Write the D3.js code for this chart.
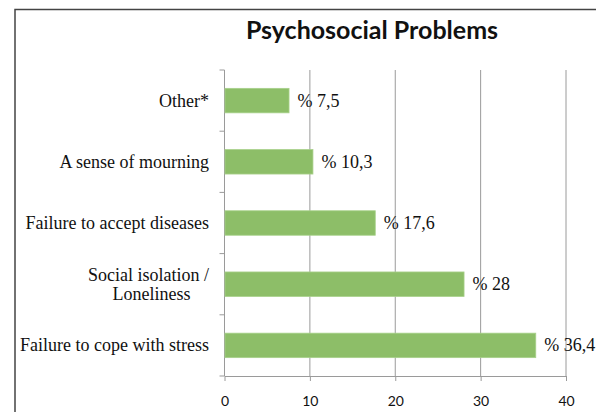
<!DOCTYPE html>
<html>
<head>
<meta charset="utf-8">
<script src="https://cdn.jsdelivr.net/npm/d3@7"></script>
<style>
  body { margin: 0; background: #fff; }
</style>
</head>
<body>
<svg id="chart" width="596" height="412"></svg>
<script>
// data, top to bottom
let categories = ["Other*", "A sense of mourning", "Failure to accept diseases", "Social isolation / Loneliness", "Failure to cope with stress"]
let values = [7.5, 10.3, 17.6, 28, 36.4]
let xTicks = [0, 10, 20, 30, 40]

let svg = d3.select('#chart')

let plotLeft = 224.5, plotRight = 566, plotTop = 70, plotBottom = 376

let x = d3.scaleLinear().domain([0, 40]).range([plotLeft, plotRight])
let y = d3.scaleBand().domain(categories).range([plotTop, plotBottom]).paddingInner(0.6).paddingOuter(0.3)

// outer frame
svg.append('rect')
    .attr('x', 15).attr('y', 9.5)
    .attr('width', 620).attr('height', 430)
    .attr('fill', 'none')
    .attr('stroke', '#444')
    .attr('stroke-width', 1.5)

// title
svg.append('text')
    .attr('x', 372).attr('y', 39)
    .attr('text-anchor', 'middle')
    .style('font-family', 'Lato, sans-serif')
    .style('font-weight', 'bold')
    .style('font-size', '25px')
    .attr('fill', '#111')
    .text('Psychosocial Problems')

// vertical gridlines
svg.append('g').selectAll('line')
    .data(xTicks.slice(1))
    .enter()
    .append('line')
    .attr('x1', d => x(d)).attr('x2', d => x(d))
    .attr('y1', plotTop).attr('y2', plotBottom)
    .attr('stroke', '#9a9a9a')
    .attr('stroke-width', 1)

// x axis
let xAxis = svg.append('g')
    .attr('transform', `translate(0,${plotBottom})`)
    .call(d3.axisBottom(x).tickValues(xTicks).tickSize(5).tickPadding(15).tickSizeOuter(0))
xAxis.select('.domain').attr('stroke', '#9a9a9a')
xAxis.selectAll('.tick line').attr('stroke', '#9a9a9a')
xAxis.selectAll('.tick text')
    .style('font-family', 'Lato, sans-serif')
    .style('font-size', '14px')
    .attr('fill', '#111')

// y axis line with ticks between categories
svg.append('line')
    .attr('x1', plotLeft).attr('x2', plotLeft)
    .attr('y1', plotTop).attr('y2', plotBottom)
    .attr('stroke', '#9a9a9a')
svg.append('g').selectAll('line')
    .data(d3.range(categories.length + 1))
    .enter()
    .append('line')
    .attr('x1', plotLeft - 5).attr('x2', plotLeft)
    .attr('y1', i => plotTop + i * (plotBottom - plotTop) / categories.length)
    .attr('y2', i => plotTop + i * (plotBottom - plotTop) / categories.length)
    .attr('stroke', '#9a9a9a')

// bars
svg.append('g').selectAll('rect')
    .data(categories)
    .enter()
    .append('rect')
    .attr('x', x(0) + 0.5)
    .attr('y', d => y(d))
    .attr('width', (d, i) => x(values[i]) - x(0))
    .attr('height', y.bandwidth())
    .attr('fill', '#8dbe68')
    .attr('stroke', '#a8d08a')
    .attr('stroke-width', 0.8)

// value labels
svg.append('g').selectAll('text')
    .data(categories)
    .enter()
    .append('text')
    .attr('x', (d, i) => x(values[i]) + 9)
    .attr('y', d => y(d) + y.bandwidth() / 2 + 6)
    .style('font-family', '"Liberation Serif", serif')
    .style('font-size', '18px')
    .attr('fill', '#111')
    .text((d, i) => '% ' + String(values[i]).replace('.', ','))

// category labels
let labelX = 209
let catLabels = svg.append('g').selectAll('text')
    .data(categories)
    .enter()
    .append('text')
    .style('font-family', '"Liberation Serif", serif')
    .style('font-size', '18px')
    .attr('fill', '#111')

catLabels.each(function (d) {
    let t = d3.select(this)
    let cy = y(d) + y.bandwidth() / 2
    if (d.indexOf(' / ') > -1) {
        let parts = d.split(' / ')
        let first = t.append('tspan').attr('text-anchor', 'end').attr('x', labelX).attr('y', cy - 3).text(parts[0] + ' /')
        let w = first.node().getComputedTextLength()
        t.append('tspan').attr('text-anchor', 'middle').attr('x', labelX - w / 2 + 3).attr('y', cy + 16).text(parts[1])
    } else {
        t.attr('text-anchor', 'end').attr('x', labelX).attr('y', cy + 6).text(d)
    }
})
</script>
</body>
</html>
